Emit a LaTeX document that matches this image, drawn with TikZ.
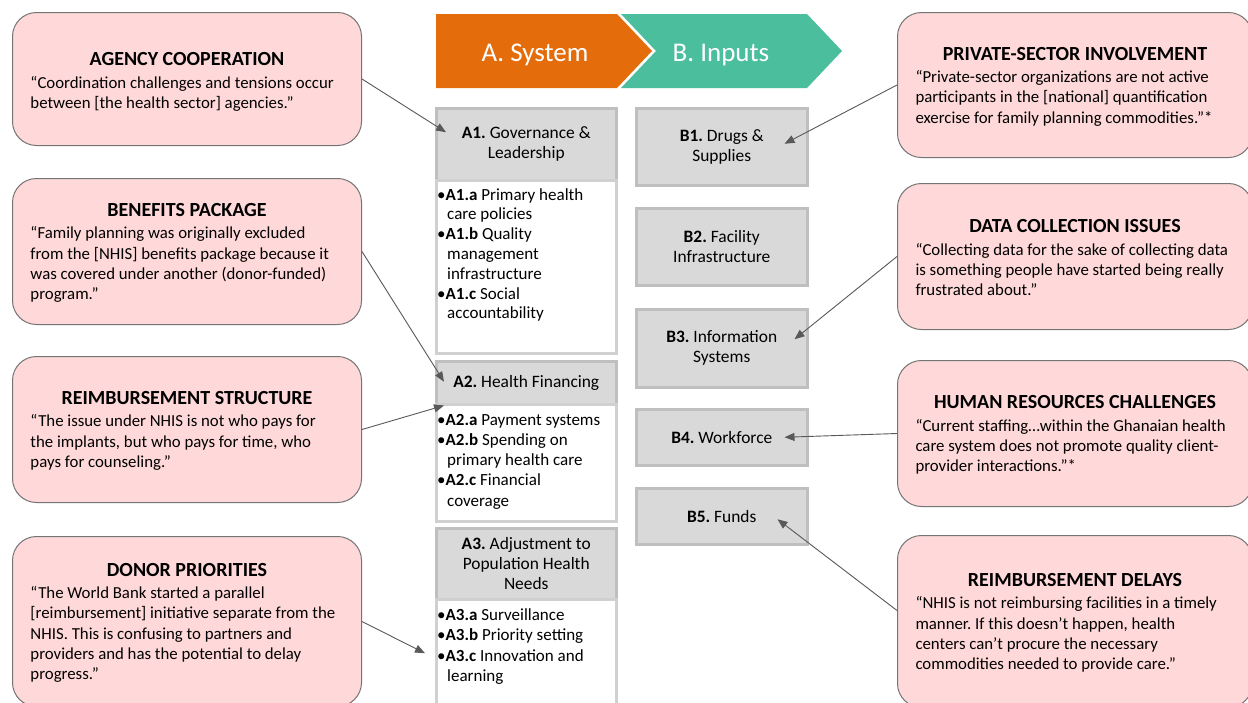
\documentclass[tikz,border=0pt]{standalone}
\usepackage{fontspec}
\setmainfont{Carlito}
\usetikzlibrary{arrows.meta,calc}

\definecolor{pinkfill}{HTML}{FFD9D9}
\definecolor{pinkedge}{HTML}{747474}
\definecolor{sysorange}{HTML}{E46C0A}
\definecolor{inputteal}{HTML}{4BBE9D}
\definecolor{hdrfill}{HTML}{D9D9D9}
\definecolor{hdredge}{HTML}{BFBFBF}
\definecolor{bodyedge}{HTML}{D0D0D0}
\definecolor{connector}{HTML}{595959}

% centred bold heading inside a quote box
\newcommand\quotehead[2]{\makebox[#1][c]{\rule{0pt}{16pt}\bfseries\fontsize{20}{24}\selectfont #2}}

\begin{document}
\frenchspacing
\begin{tikzpicture}[x=1pt,y=-1pt,
  quote/.style 2 args={draw=pinkedge, line width=1pt, fill=pinkfill,
    rounded corners=24pt, anchor=north west, align=left,
    inner xsep=18pt, inner ysep=0pt, minimum width=#1, minimum height=#2,
    font=\fontsize{16.8}{20.3}\selectfont},
  hdr/.style={draw=hdredge, line width=2.5pt, fill=hdrfill, anchor=north west,
    align=center, inner sep=0pt, minimum width=171pt,
    font=\fontsize{17.4}{20}\selectfont},
  bodybox/.style={draw=bodyedge, line width=2.5pt, fill=white, anchor=north west,
    inner sep=0pt, minimum width=180pt},
  bullets/.style={anchor=north west, align=left, inner sep=0pt,
    font=\fontsize{17}{19.8}\selectfont},
  chevlabel/.style={text=white, font=\fontsize{27}{32}\selectfont},
  conn/.style={draw=connector, line width=0.9pt,
    -{Triangle[length=10pt,width=8pt]}}
]
\fill[white] (0,0) rectangle (1248,702);
\useasboundingbox (0,0) rectangle (1248,702);

% process chevrons
\fill[sysorange] (436,14) -- (617,14) -- (652,51) -- (617,88) -- (436,88) -- cycle;
\fill[inputteal] (621,14) -- (807,14) -- (842,51) -- (807,88) -- (621,88) -- (656,51) -- cycle;
\node[chevlabel] (syslabel) at (535,55) {A. System};
\node[chevlabel] (inlabel) at (721,55) {B. Inputs};

% A column: system building blocks
\node[hdr, minimum width=180pt, minimum height=72pt] (a1h) at (435,107)
  {\textbf{A1.} Governance \&\\Leadership};
\node[bodybox, minimum height=173pt] (a1b) at (435,179) {};
\node[bullets] (a1list) at ($(a1b.north west)+(2,9)$)
  {•\textbf{A1.a} Primary health\\
   \hspace*{10pt}care policies\\
   •\textbf{A1.b} Quality\\
   \hspace*{10pt}management\\
   \hspace*{10pt}infrastructure\\
   •\textbf{A1.c} Social\\
   \hspace*{10pt}accountability};

\node[hdr, minimum width=180pt, minimum height=43pt] (a2h) at (435,360)
  {\textbf{A2.} Health Financing};
\node[bodybox, minimum height=117pt] (a2b) at (435,403) {};
\node[bullets, font=\fontsize{17}{20.2}\selectfont] (a2list) at ($(a2b.north west)+(2,11)$)
  {•\textbf{A2.a} Payment systems\\
   •\textbf{A2.b} Spending on\\
   \hspace*{10pt}primary health care\\
   •\textbf{A2.c} Financial\\
   \hspace*{10pt}coverage};

\node[hdr, minimum width=180pt, minimum height=71pt] (a3h) at (435,527)
  {\textbf{A3.} Adjustment to\\Population Health\\Needs};
\node[bodybox, minimum height=110pt] (a3b) at (435,598) {};
\node[bullets, font=\fontsize{17}{20.5}\selectfont] (a3list) at ($(a3b.north west)+(2,10)$)
  {•\textbf{A3.a} Surveillance\\
   •\textbf{A3.b} Priority setting\\
   •\textbf{A3.c} Innovation and\\
   \hspace*{10pt}learning};

% B column: inputs
\node[hdr, minimum height=77pt] (b1) at (635,107) {\textbf{B1.} Drugs \&\\Supplies};
\node[hdr, minimum height=77pt] (b2) at (635,207) {\textbf{B2.} Facility\\Infrastructure};
\node[hdr, minimum height=78pt] (b3) at (635,308) {\textbf{B3.} Information\\Systems};
\node[hdr, minimum height=56pt] (b4) at (635,408) {\textbf{B4.} Workforce};
\node[hdr, minimum height=56pt] (b5) at (635,487) {\textbf{B5.} Funds};

% quotations on the left
\node[quote={349pt}{133pt}, text depth=0pt] (agency) at (12,12)
  {\quotehead{313pt}{AGENCY COOPERATION}\\[2pt]
   “Coordination challenges and tensions occur\\
   between [the health sector] agencies.”};
\node[quote={349pt}{146pt}] (benefits) at (12,178)
  {\quotehead{313pt}{BENEFITS PACKAGE}\\[2pt]
   “Family planning was originally excluded\\
   from the [NHIS] benefits package because it\\
   was covered under another (donor-funded)\\
   program.”};
\node[quote={349pt}{146pt}] (reimb) at (12,356)
  {\quotehead{313pt}{REIMBURSEMENT STRUCTURE}\\[2pt]
   “The issue under NHIS is not who pays for\\
   the implants, but who pays for time, who\\
   pays for counseling.”};
\node[quote={349pt}{170pt}] (donor) at (12,536)
  {\quotehead{313pt}{DONOR PRIORITIES}\\[2pt]
   “The World Bank started a parallel\\
   {[}reimbursement] initiative separate from the\\
   NHIS. This is confusing to partners and\\
   providers and has the potential to delay\\
   progress.”};

% quotations on the right
\node[quote={355pt}{145pt}] (private) at (897,12)
  {\quotehead{319pt}{PRIVATE-SECTOR INVOLVEMENT}\\[2pt]
   “Private-sector organizations are not active\\
   participants in the [national] quantification\\
   exercise for family planning commodities.”*};
\node[quote={355pt}{146pt}] (datacoll) at (897,183)
  {\quotehead{319pt}{DATA COLLECTION ISSUES}\\[2pt]
   “Collecting data for the sake of collecting data\\
   is something people have started being really\\
   frustrated about.”};
\node[quote={355pt}{146pt}] (human) at (897,360)
  {\quotehead{319pt}{HUMAN RESOURCES CHALLENGES}\\[2pt]
   “Current staffing…within the Ghanaian health\\
   care system does not promote quality client-\\
   provider interactions.”*};
\node[quote={355pt}{172pt}] (delays) at (897,535)
  {\quotehead{319pt}{REIMBURSEMENT DELAYS}\\[2pt]
   “NHIS is not reimbursing facilities in a timely\\
   manner. If this doesn’t happen, health\\
   centers can’t procure the necessary\\
   commodities needed to provide care.”};

% connectors from quotations to building blocks
\draw[conn] (agency.east) -- ($(a1h.west)+(11,-12)$);
\draw[conn] (benefits.east) -- ($(a2h.west)+(9,-1)$);
\draw[conn] (reimb.east) -- ($(a2h.south west)+(9,0)$);
\draw[conn] (donor.east) -- ($(a3b.west)+(-10,-1)$);
\draw[conn] (private.west) -- ($(b1.east)+(-24,-3)$);
\draw[conn] (datacoll.west) -- ($(b3.east)+(-14,-9)$);
\draw[conn] (human.west) -- ($(b4.east)+(-24,0)$);
\draw[conn] ($(delays.west)+(0,-11)$) -- ($(b5.east)+(-31,3)$);
\end{tikzpicture}
\end{document}
